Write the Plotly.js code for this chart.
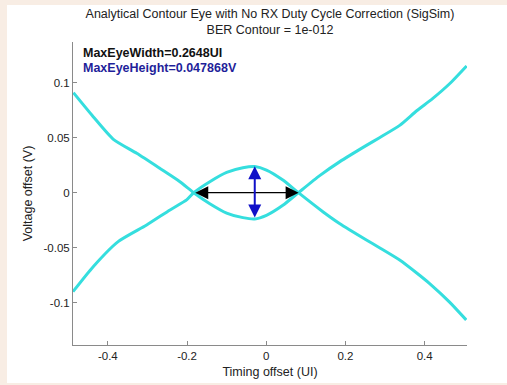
<!DOCTYPE html>
<html>
<head>
<meta charset="utf-8">
<script src="https://cdn.plot.ly/plotly-3.0.1.min.js"></script>
<style>
html,body{margin:0;padding:0;background:#f8ede4;width:507px;height:385px;overflow:hidden;}
#chart{position:absolute;left:7px;top:5px;width:500px;height:378px;background:#fff;}
</style>
</head>
<body>
<div id="chart"></div>
<script>
// Contour A: upper-left curve, eye bottom, upper-right curve
const curveAX = [-0.487, -0.437, -0.386, -0.327, -0.269, -0.218, -0.183,
  -0.1425, -0.100, -0.059, -0.029, 0.0005, 0.042, 0.0812,
  0.135, 0.185, 0.253, 0.286, 0.337, 0.380, 0.420, 0.463, 0.506];
const curveAY = [0.0909, 0.0691, 0.0485, 0.0358, 0.0222, 0.0100, 0.0,
  -0.0100, -0.0185, -0.0227, -0.0239, -0.0206, -0.0115, 0.0,
  0.0155, 0.0280, 0.0430, 0.0500, 0.0612, 0.0745, 0.0855, 0.0990, 0.1152];
// Contour B: lower-left curve, eye top, lower-right curve
const curveBX = [-0.488, -0.437, -0.374, -0.302, -0.243, -0.201, -0.183,
  -0.1425, -0.100, -0.059, -0.029, 0.0005, 0.042, 0.0812,
  0.143, 0.185, 0.253, 0.286, 0.337, 0.380, 0.412, 0.463, 0.505];
const curveBY = [-0.0900, -0.0673, -0.0445, -0.0294, -0.0157, -0.0066, 0.0,
  0.0100, 0.0185, 0.0227, 0.0238, 0.0206, 0.0115, 0.0,
  -0.0173, -0.0280, -0.0430, -0.0500, -0.0612, -0.0730, -0.0824, -0.0995, -0.1157];

const eyeLeft = -0.183, eyeRight = 0.0818;
const eyeCenterX = -0.029, eyeHalfHeight = 0.023934;

const xTickVals = [-0.4, -0.2, 0, 0.2, 0.4];
const xTickText = ['-0.4', '-0.2', '0', '0.2', '0.4'];
const yTickVals = [-0.1, -0.05, 0, 0.05, 0.1];
const yTickText = ['-0.1', '-0.05', '0', '0.05', '0.1'];

const cyan = '#35dede';
const traces = [
  {x: curveAX, y: curveAY, mode: 'lines', line: {color: cyan, width: 3, shape: 'spline', smoothing: 0.6}, hoverinfo: 'skip'},
  {x: curveBX, y: curveBY, mode: 'lines', line: {color: cyan, width: 3, shape: 'spline', smoothing: 0.6}, hoverinfo: 'skip'}
];

const fontFam = 'Liberation Sans, Arial, sans-serif';
const layout = {
  width: 500, height: 378,
  margin: {l: 66, r: 40, t: 37, b: 38},
  paper_bgcolor: '#ffffff', plot_bgcolor: '#ffffff',
  showlegend: false,
  font: {family: fontFam, size: 11, color: '#222'},
  title: {text: 'Analytical Contour Eye with No RX Duty Cycle Correction (SigSim)<br>BER Contour = 1e-012',
    font: {family: fontFam, size: 12.5, color: '#222'}, x: 0.5, xref: 'paper', xanchor: 'center', y: 0.966, yanchor: 'top'},
  xaxis: {range: [-0.488, 0.507], tickvals: xTickVals, ticktext: xTickText,
    showgrid: false, zeroline: false, showline: true, linecolor: '#8a8a8a', linewidth: 1,
    ticks: 'inside', ticklen: 4, tickcolor: '#8a8a8a',
    tickfont: {family: fontFam, size: 11.5, color: '#222'},
    title: {text: 'Timing offset (UI)', font: {family: fontFam, size: 12.5, color: '#222'}, standoff: 6}},
  yaxis: {range: [-0.1385, 0.137], tickvals: yTickVals, ticktext: yTickText,
    showgrid: false, zeroline: false, showline: true, linecolor: '#8a8a8a', linewidth: 1,
    ticks: 'inside', ticklen: 4, tickcolor: '#8a8a8a',
    tickfont: {family: fontFam, size: 11.5, color: '#222'},
    title: {text: 'Voltage offset (V)', font: {family: fontFam, size: 12.5, color: '#222'}, standoff: 8}},
  annotations: [
    {x: eyeRight, y: 0, ax: eyeLeft, ay: 0, xref: 'x', yref: 'y', axref: 'x', ayref: 'y',
      text: '', showarrow: true, arrowhead: 2, arrowside: 'end+start', arrowsize: 2, arrowwidth: 1.3, arrowcolor: '#000'},
    {x: eyeCenterX, y: eyeHalfHeight, ax: eyeCenterX, ay: -eyeHalfHeight, xref: 'x', yref: 'y', axref: 'x', ayref: 'y',
      text: '', showarrow: true, arrowhead: 2, arrowside: 'end+start', arrowsize: 1.3, arrowwidth: 2, arrowcolor: '#1010c8'},
    {x: 0.02, y: 0.995, xref: 'paper', yref: 'paper', xanchor: 'left', yanchor: 'top', showarrow: false,
      text: '<b>MaxEyeWidth=0.2648UI</b>', font: {family: fontFam, size: 12.5, color: '#111'}},
    {x: 0.02, y: 0.945, xref: 'paper', yref: 'paper', xanchor: 'left', yanchor: 'top', showarrow: false,
      text: '<b>MaxEyeHeight=0.047868V</b>', font: {family: fontFam, size: 12.5, color: '#1f1f9a'}}
  ]
};
Plotly.newPlot('chart', traces, layout, {displayModeBar: false, staticPlot: true});
</script>
</body>
</html>
